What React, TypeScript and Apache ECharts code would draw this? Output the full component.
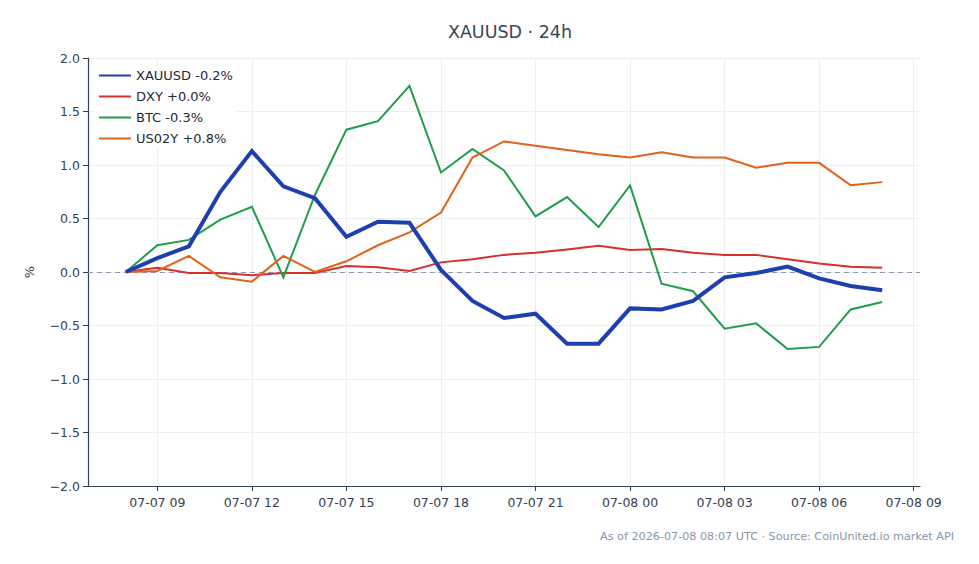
import React, { useEffect, useRef } from "react";
import * as echarts from "echarts";

// Hourly % change vs. the first sample, 07-07 08:00 UTC → 07-08 08:00 UTC
const START_UTC = Date.UTC(2026, 6, 7, 8, 0, 0);
const HOUR = 3600 * 1000;

const xauusd = [0, 0.13, 0.24, 0.75, 1.13, 0.8, 0.69, 0.33, 0.47, 0.46, 0.02, -0.27, -0.43, -0.39, -0.67, -0.67, -0.34, -0.35, -0.27, -0.05, -0.01, 0.05, -0.06, -0.13, -0.17];
const dxy = [0, 0.04, -0.01, -0.01, -0.03, -0.01, -0.01, 0.055, 0.045, 0.01, 0.09, 0.12, 0.16, 0.18, 0.21, 0.245, 0.205, 0.215, 0.18, 0.16, 0.16, 0.12, 0.08, 0.05, 0.04];
const btc = [0, 0.25, 0.3, 0.49, 0.61, -0.05, 0.72, 1.33, 1.41, 1.74, 0.93, 1.15, 0.95, 0.52, 0.7, 0.42, 0.81, -0.11, -0.18, -0.53, -0.48, -0.72, -0.7, -0.35, -0.28];
const us02y = [0, 0.01, 0.15, -0.05, -0.09, 0.15, 0.0, 0.1, 0.25, 0.37, 0.555, 1.07, 1.22, 1.18, 1.14, 1.1, 1.07, 1.12, 1.07, 1.07, 0.975, 1.02, 1.02, 0.81, 0.84];

// x-axis ticks every 3 hours, 07-07 09:00 → 07-08 09:00 UTC
const tickTimes = [
  Date.UTC(2026, 6, 7, 9), Date.UTC(2026, 6, 7, 12), Date.UTC(2026, 6, 7, 15),
  Date.UTC(2026, 6, 7, 18), Date.UTC(2026, 6, 7, 21), Date.UTC(2026, 6, 8, 0),
  Date.UTC(2026, 6, 8, 3), Date.UTC(2026, 6, 8, 6), Date.UTC(2026, 6, 8, 9),
];

const TITLE = "XAUUSD · 24h";
const FOOTER = "As of 2026-07-08 08:07 UTC · Source: CoinUnited.io market API";

const FONT = "'DejaVu Sans', sans-serif";
const INK = "#334155";

const pad2 = (n: number) => String(n).padStart(2, "0");
const fmtTime = (t: number) => {
  const d = new Date(t);
  return `${pad2(d.getUTCMonth() + 1)}-${pad2(d.getUTCDate())} ${pad2(d.getUTCHours())}`;
};
const fmtPct = (v: number) => {
  const s = (Math.round(v * 10) / 10).toFixed(1);
  return (v >= 0 ? "+" : "") + s + "%";
};
const toPoints = (vals: number[]) => vals.map((v, i) => [START_UTC + i * HOUR, v]);

export default function App() {
  const ref = useRef<HTMLDivElement>(null);

  useEffect(() => {
    if (!ref.current) return;
    const chart = echarts.init(ref.current, undefined, { renderer: "svg" });
    const n = xauusd.length;
    const tMin = START_UTC;
    const tMax = START_UTC + (n - 1) * HOUR;
    const span = tMax - tMin;

    const series = [
      { key: "XAUUSD", data: xauusd, color: "#1e40af", width: 4, z: 5 },
      { key: "DXY", data: dxy, color: "#d62f2f", width: 2, z: 3 },
      { key: "BTC", data: btc, color: "#1f9d4b", width: 2, z: 3 },
      { key: "US02Y", data: us02y, color: "#e0621b", width: 2, z: 3 },
    ];

    chart.setOption({
      animation: false,
      backgroundColor: "#ffffff",
      textStyle: { fontFamily: FONT },
      title: [
        {
          text: TITLE,
          left: 505,
          top: 18,
          textAlign: "center",
          textStyle: { fontFamily: FONT, fontSize: 17.5, fontWeight: "normal", color: "#3b4656" },
        },
        {
          text: FOOTER,
          right: 20,
          top: 526,
          textStyle: { fontFamily: FONT, fontSize: 11.2, fontWeight: "normal", color: "#8a96a8" },
        },
      ],
      legend: {
        orient: "vertical",
        left: 94,
        top: 66,
        itemWidth: 32,
        itemHeight: 12,
        itemGap: 8,
        padding: [3, 4, 3, 4],
        backgroundColor: "#ffffff",
        itemStyle: { opacity: 0 },
        textStyle: { fontFamily: FONT, fontSize: 13, color: "#1f2937" },
        data: series.map((s) => `${s.key} ${fmtPct(s.data[s.data.length - 1])}`),
      },
      grid: { left: 88, right: 59, top: 58, bottom: 78, containLabel: false },
      xAxis: {
        type: "value",
        min: tMin - 0.05 * span,
        max: tMax + 0.05 * span,
        axisLine: { show: true, onZero: false, lineStyle: { color: INK, width: 1.2 } },
        axisTick: { show: true, length: 5, customValues: tickTimes, lineStyle: { color: INK } },
        axisLabel: {
          customValues: tickTimes,
          formatter: (v: number) => fmtTime(v),
          color: INK,
          fontSize: 12.5,
          fontFamily: FONT,
          margin: 10,
        },
        splitLine: { show: true, customValues: tickTimes, lineStyle: { color: "#eceef1", width: 1 } },
      },
      yAxis: {
        type: "value",
        min: -2,
        max: 2,
        interval: 0.5,
        name: "%",
        nameLocation: "middle",
        nameGap: 52,
        nameTextStyle: { fontFamily: FONT, fontSize: 13, color: INK },
        axisLine: { show: true, onZero: false, lineStyle: { color: INK, width: 1.2 } },
        axisTick: { show: true, length: 5, lineStyle: { color: INK } },
        axisLabel: {
          formatter: (v: number) => v.toFixed(1).replace("-", "\u2212"),
          color: INK,
          fontSize: 12.5,
          fontFamily: FONT,
          margin: 8,
        },
        splitLine: { show: true, lineStyle: { color: "#eceef1", width: 1 } },
      },
      series: series.map((s, idx) => ({
        name: `${s.key} ${fmtPct(s.data[s.data.length - 1])}`,
        type: "line",
        data: toPoints(s.data),
        showSymbol: false,
        symbol: "none",
        z: s.z,
        color: s.color,
        itemStyle: { color: s.color },
        lineStyle: { color: s.color, width: s.width, join: "miter" },
        markLine:
          idx === 0
            ? {
                silent: true,
                symbol: "none",
                label: { show: false },
                lineStyle: { color: "#8d9bb0", type: [5, 4], width: 1 },
                data: [{ yAxis: 0 }],
                z: 1,
              }
            : undefined,
      })),
    });

    return () => chart.dispose();
  }, []);

  return <div ref={ref} style={{ width: 979, height: 564, position: "absolute", left: 0, top: 0 }} />;
}
